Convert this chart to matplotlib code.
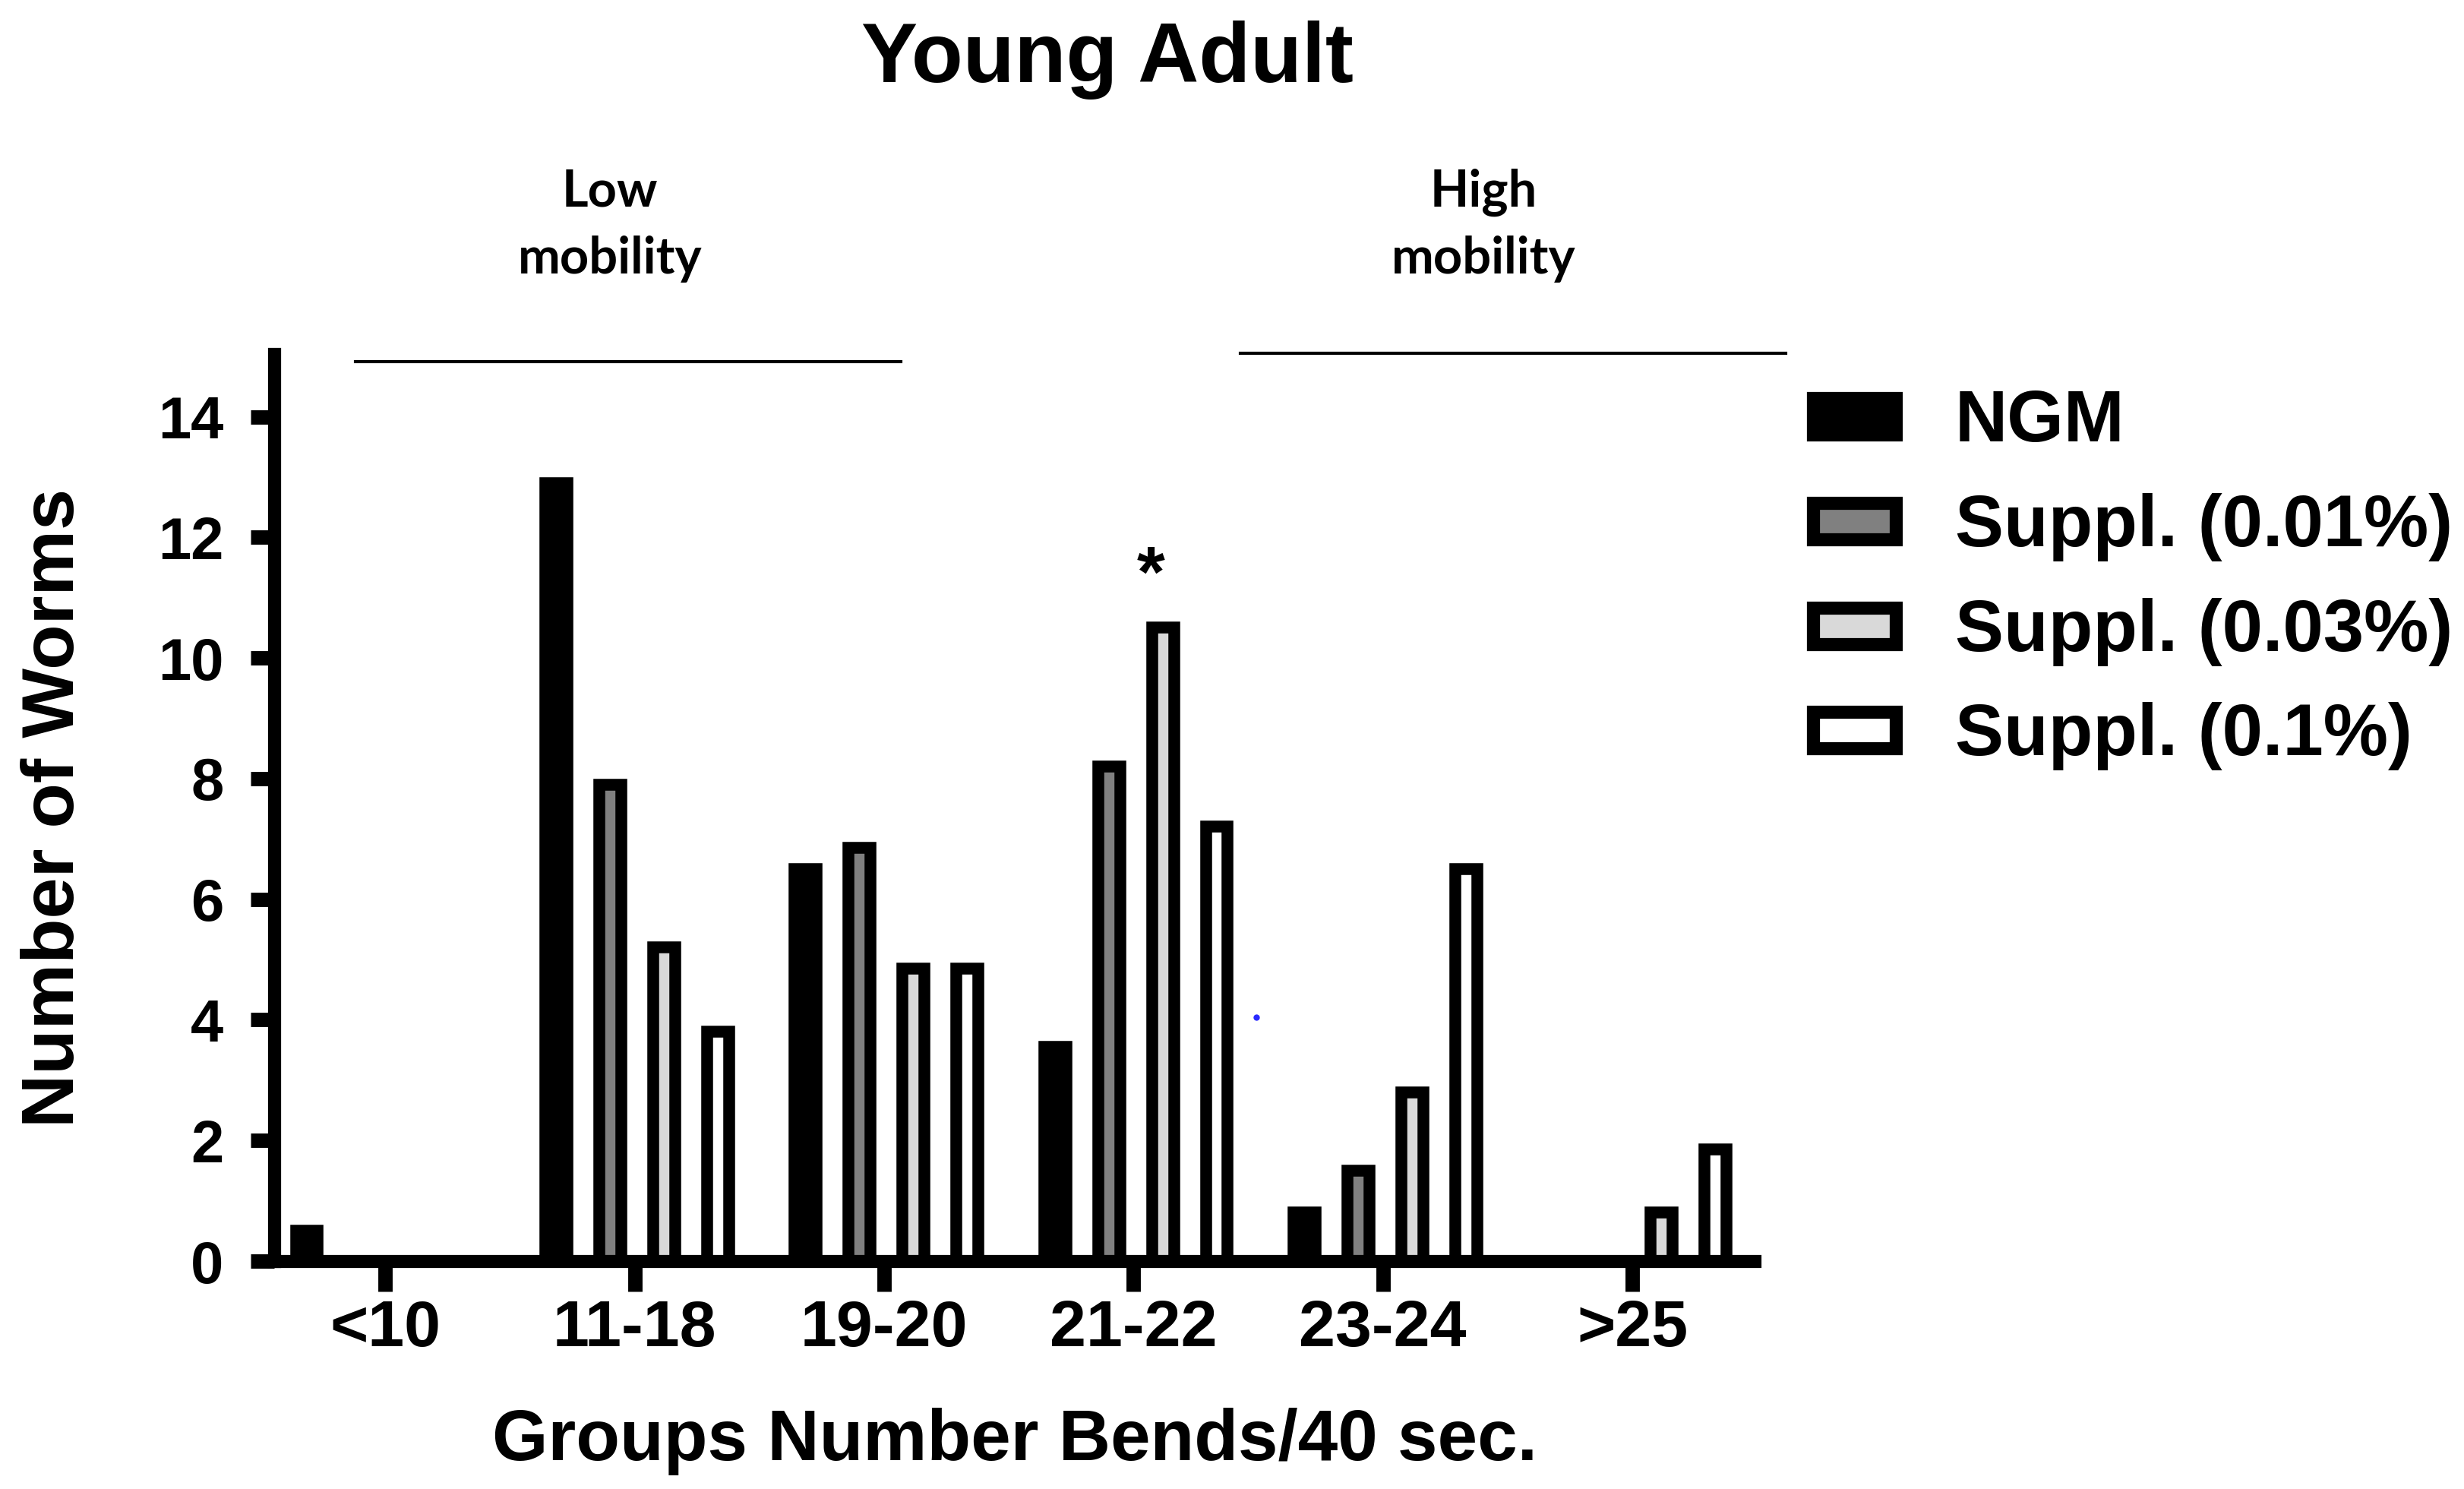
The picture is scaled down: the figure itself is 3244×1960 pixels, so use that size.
import matplotlib
matplotlib.use('Agg')
import matplotlib.pyplot as plt
import numpy as np
from matplotlib.patches import Rectangle

# ---------------- data ----------------
categories = ['<10', '11-18', '19-20', '21-22', '23-24', '>25']
series_names = ['NGM', 'Suppl. (0.01%)', 'Suppl. (0.03%)', 'Suppl. (0.1%)']
ngm = [0.5, 12.9, 6.5, 3.55, 0.8, 0.0]
suppl_001 = [0.0, 7.9, 6.85, 8.2, 1.5, 0.0]
suppl_003 = [0.0, 5.2, 4.85, 10.5, 2.8, 0.8]
suppl_01 = [0.0, 3.8, 4.85, 7.2, 6.5, 1.85]
y_ticks = [0, 2, 4, 6, 8, 10, 12, 14]
fill_colors = ['#000000', '#808080', '#d9d9d9', '#ffffff']

title = 'Young Adult'
x_label = 'Groups Number Bends/40 sec.'
y_label = 'Number of Worms'
bracket_labels = [('Low', 'mobility'), ('High', 'mobility')]

series = [ngm, suppl_001, suppl_003, suppl_01]

# ---------------- figure ----------------
W, H, DPI = 3244, 1960, 200
fig = plt.figure(figsize=(W / DPI, H / DPI), dpi=DPI)
fig.patch.set_facecolor('white')

def fx(px):
    return px / W

def fy(py):
    return 1 - py / H

ax_left, ax_right, ax_top, ax_bottom = 361, 2310, 466, 1660
ax = fig.add_axes([fx(ax_left), fy(ax_bottom), fx(ax_right) - fx(ax_left),
                   fy(ax_top) - fy(ax_bottom)])

BOLD = 'Liberation Sans'
lw_edge = 5.6
pitch = 0.216
bar_w = 0.088
offset = 0.01
x = np.arange(len(categories))

bar_containers = []
for j, (vals, col) in enumerate(zip(series, fill_colors)):
    bc = ax.bar(x + offset + (j - 1.5) * pitch, vals, width=bar_w, color=col,
                edgecolor='black', linewidth=lw_edge, zorder=2)
    bar_containers.append(bc)

ax.set_xlim(-0.445, 5.49)
ax.set_ylim(0, 15.04)

for s in ['top', 'right']:
    ax.spines[s].set_visible(False)
for s in ['left', 'bottom']:
    ax.spines[s].set_linewidth(6.2)
    ax.spines[s].set_zorder(3)

ax.set_xticks(x)
ax.set_xticklabels(categories, fontfamily=BOLD, fontweight='bold', fontsize=31)
ax.set_yticks(y_ticks)
ax.set_yticklabels([str(v) for v in y_ticks], fontfamily=BOLD,
                   fontweight='bold', fontsize=28)
ax.tick_params(axis='x', direction='out', length=14.4, width=6.8, pad=3.5)
ax.tick_params(axis='y', direction='out', length=11, width=6.8, pad=13)

ax.set_xlabel(x_label, fontfamily=BOLD, fontweight='bold', fontsize=34, va='top')
ax.xaxis.set_label_coords(0.5, -0.1616)
ax.set_ylabel(y_label, fontfamily=BOLD, fontweight='bold', fontsize=35)
ax.yaxis.set_label_coords(-0.1252, 0.5)

# title
fig.text(fx(1458), fy(108), title, ha='center', va='baseline',
         fontfamily=BOLD, fontweight='bold', fontsize=40)

# bracket lines and labels
ax.plot([-0.119, 2.068], [14.92, 14.92], color='black', lw=1.5,
        clip_on=False, zorder=4)
ax.plot([3.429, 5.615], [15.05, 15.05], color='black', lw=1.5,
        clip_on=False, zorder=4)
for (l1, l2), cx in zip(bracket_labels, [803, 1953]):
    fig.text(fx(cx), fy(272), l1, ha='center', va='baseline',
             fontfamily='Lato', fontweight='bold', fontsize=24)
    fig.text(fx(cx), fy(360), l2, ha='center', va='baseline',
             fontfamily='Lato', fontweight='bold', fontsize=24)

# significance asterisk
ax.text(3.07, 11.03, '*', ha='center', va='baseline', fontfamily=BOLD,
        fontweight='bold', fontsize=34, clip_on=False)

# stray blue dot present in the reference
ax.plot([3.493], [4.04], marker='o', markersize=3.0, color='#2a2aff',
        markeredgewidth=0, linestyle='none', zorder=5)

# legend (manual, figure coordinates)
leg_centers = [548, 686, 824, 961]
for name, col, cy in zip(series_names, fill_colors, leg_centers):
    r = Rectangle((fx(2387), fy(cy + 24)), fx(2496) - fx(2387),
                  fy(cy - 24) - fy(cy + 24), transform=fig.transFigure,
                  facecolor=col, edgecolor='black', linewidth=6.2)
    fig.patches.append(r)
    fig.text(fx(2574), fy(cy + 33), name, ha='left', va='baseline',
             fontfamily=BOLD, fontweight='bold', fontsize=34.5)

fig.savefig('out.png', dpi=DPI, facecolor='white')
